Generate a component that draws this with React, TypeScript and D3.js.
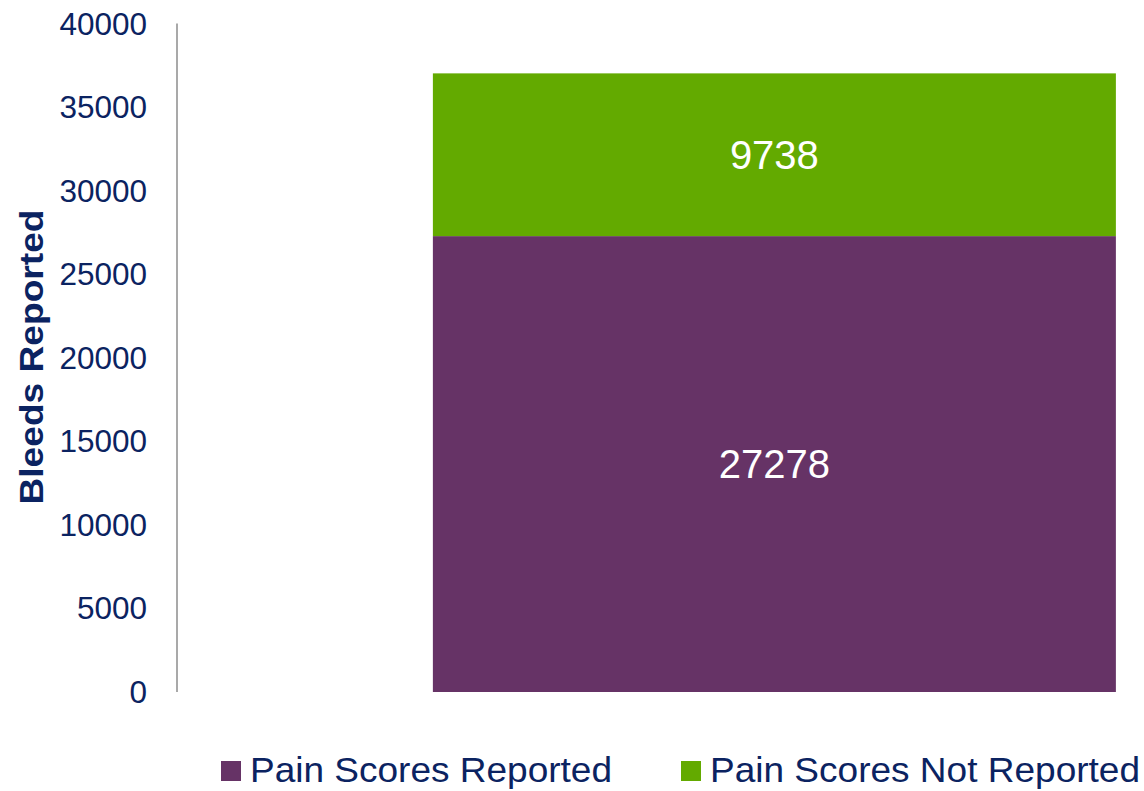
import React from "react";
import * as d3 from "d3";

// values
const categories = ["All Bleeds"];
const seriesNames = ["Pain Scores Reported", "Pain Scores Not Reported"];
const painReported = [27278];
const painNotReported = [9738];
const yTicks = [0, 5000, 10000, 15000, 20000, 25000, 30000, 35000, 40000];

const colors = ["#663366", "#63aa00"];
const textColor = "#0b2361";

const W = 1144;
const H = 791;

const App = () => {
    const y = d3.scaleLinear().domain([0, 40000]).range([692, 23.5]);
    const x = d3
        .scaleBand()
        .domain(categories)
        .range([177, W])
        .paddingInner(0)
        .paddingOuter(0.2079)
        .align(0.901);

    const rows = categories.map((c, i) => ({
        cat: c,
        [seriesNames[0]]: painReported[i],
        [seriesNames[1]]: painNotReported[i],
    }));
    const stacked = d3.stack().keys(seriesNames)(rows as any);

    const legendX = [221, 681];
    const legendLen = [362, 430];

    return (
        <svg
            width={W}
            height={H}
            style={{ position: "absolute", left: 0, top: 0, background: "#fff" }}
            fontFamily="'Liberation Sans', Arial, sans-serif"
        >
            {/* y axis */}
            <line x1={177} x2={177} y1={y(40000)} y2={y(0)} stroke="#8c8c8c" strokeWidth={1.5} />
            {yTicks.map((t) => (
                <text
                    key={t}
                    x={147}
                    y={y(t)}
                    textAnchor="end"
                    dominantBaseline="central"
                    fontSize={31.5}
                    fill={textColor}
                >
                    {t}
                </text>
            ))}
            <text
                transform={`translate(43,357) rotate(-90)`}
                textAnchor="middle"
                fontSize={33}
                fontWeight="bold"
                fill={textColor}
                textLength={295}
                lengthAdjust="spacingAndGlyphs"
            >
                Bleeds Reported
            </text>

            {/* stacked bar */}
            {stacked.map((layer, li) =>
                layer.map((d, i) => (
                    <g key={`${li}-${i}`}>
                        <rect
                            x={x(categories[i])}
                            y={y(d[1])}
                            width={x.bandwidth()}
                            height={y(d[0]) - y(d[1])}
                            fill={colors[li]}
                        />
                        <text
                            x={(x(categories[i]) as number) + x.bandwidth() / 2}
                            y={(y(d[0]) + y(d[1])) / 2}
                            textAnchor="middle"
                            dominantBaseline="central"
                            fontSize={40}
                            fill="#ffffff"
                        >
                            {d[1] - d[0]}
                        </text>
                    </g>
                ))
            )}

            {/* legend */}
            {seriesNames.map((name, i) => (
                <g key={name}>
                    <rect x={legendX[i]} y={761} width={20} height={20} fill={colors[i]} />
                    <text
                        x={legendX[i] + 29}
                        y={782}
                        fontSize={35}
                        fill={textColor}
                        textLength={legendLen[i]}
                        lengthAdjust="spacingAndGlyphs"
                    >
                        {name}
                    </text>
                </g>
            ))}
        </svg>
    );
};

export default App;
